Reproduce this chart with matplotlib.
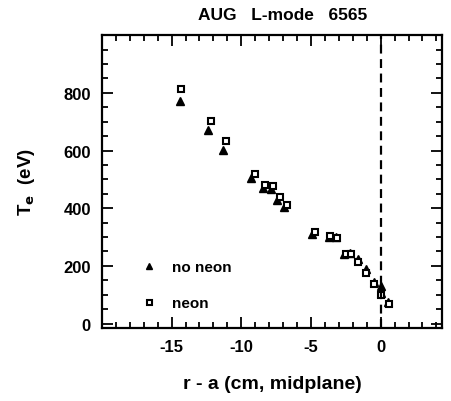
import matplotlib
matplotlib.use("Agg")
import matplotlib.pyplot as plt
from matplotlib.ticker import MultipleLocator

plt.rcParams['font.family'] = ['Liberation Sans', 'DejaVu Sans']
plt.rcParams['font.weight'] = 'bold'
plt.rcParams['axes.unicode_minus'] = False

title = "AUG   L-mode   6565"
xlabel = "r - a (cm, midplane)"
ylabel = "T$_\\mathbf{e}$  (eV)"
xticks = [-15, -10, -5, 0]
yticks = [0, 200, 400, 600, 800]

# no neon (filled triangles)
x_noneon = [-14.4, -12.4, -11.3, -9.3, -8.45, -7.86, -7.45, -6.9, -4.9, -3.7, -3.2,
            -2.6, -2.2, -1.66, -1.07, -0.5, 0.05, 0.0, 0.55]
y_noneon = [773, 672, 603, 505, 470, 467, 428, 404, 312, 300, 300,
            242, 244, 225, 188, 144, 130, 107, 75]
# neon (open squares)
x_neon = [-14.3, -12.2, -11.1, -9.05, -8.3, -7.7, -7.2, -6.74, -4.7, -3.6, -3.1,
          -2.5, -2.1, -1.6, -1.07, -0.48, 0.0, 0.6]
y_neon = [813, 703, 632, 520, 482, 476, 438, 410, 316, 303, 298,
          240, 242, 214, 176, 136, 100, 67]

fig = plt.figure(figsize=(4.51, 4.02), dpi=100)
ax = fig.add_axes([0.226, 0.182, 0.754, 0.728])

ax.plot(x_noneon, y_noneon, linestyle='none', marker='^', color='black',
        markersize=6, label='no neon')
ax.plot(x_neon, y_neon, linestyle='none', marker='s', markerfacecolor='white',
        markeredgecolor='black', markeredgewidth=1.5, markersize=4.5, label='neon')
ax.axvline(0, color='black', linestyle=(0, (4, 2.5)), linewidth=1.6)

ax.set_xlim(-20, 4.4)
ax.set_ylim(-15, 1000)
ax.set_xticks(xticks)
ax.xaxis.set_minor_locator(MultipleLocator(1))
ax.set_yticks(yticks)
ax.yaxis.set_minor_locator(MultipleLocator(50))
ax.tick_params(which='both', direction='in', top=True, right=True, width=1.3,
               labelsize=12, pad=8)
ax.tick_params(which='major', length=8)
ax.tick_params(which='minor', length=4)
for s in ax.spines.values():
    s.set_linewidth(1.6)
for lab in ax.get_xticklabels() + ax.get_yticklabels():
    lab.set_fontweight('bold')

ax.set_xlabel(xlabel, fontsize=14, fontweight='bold', labelpad=15)
ax.set_ylabel(ylabel, fontsize=13.5, fontweight='bold', labelpad=19)
ax.set_title(title, fontsize=12.5, fontweight='bold', pad=12, x=0.53)

leg = ax.legend(loc='lower left', bbox_to_anchor=(0.08, 0.013), frameon=False,
                fontsize=11, handletextpad=1.1, labelspacing=1.45, handlelength=0.8,
                markerscale=0.8)
for t in leg.get_texts():
    t.set_fontweight('bold')

fig.savefig("out.png", dpi=100)
